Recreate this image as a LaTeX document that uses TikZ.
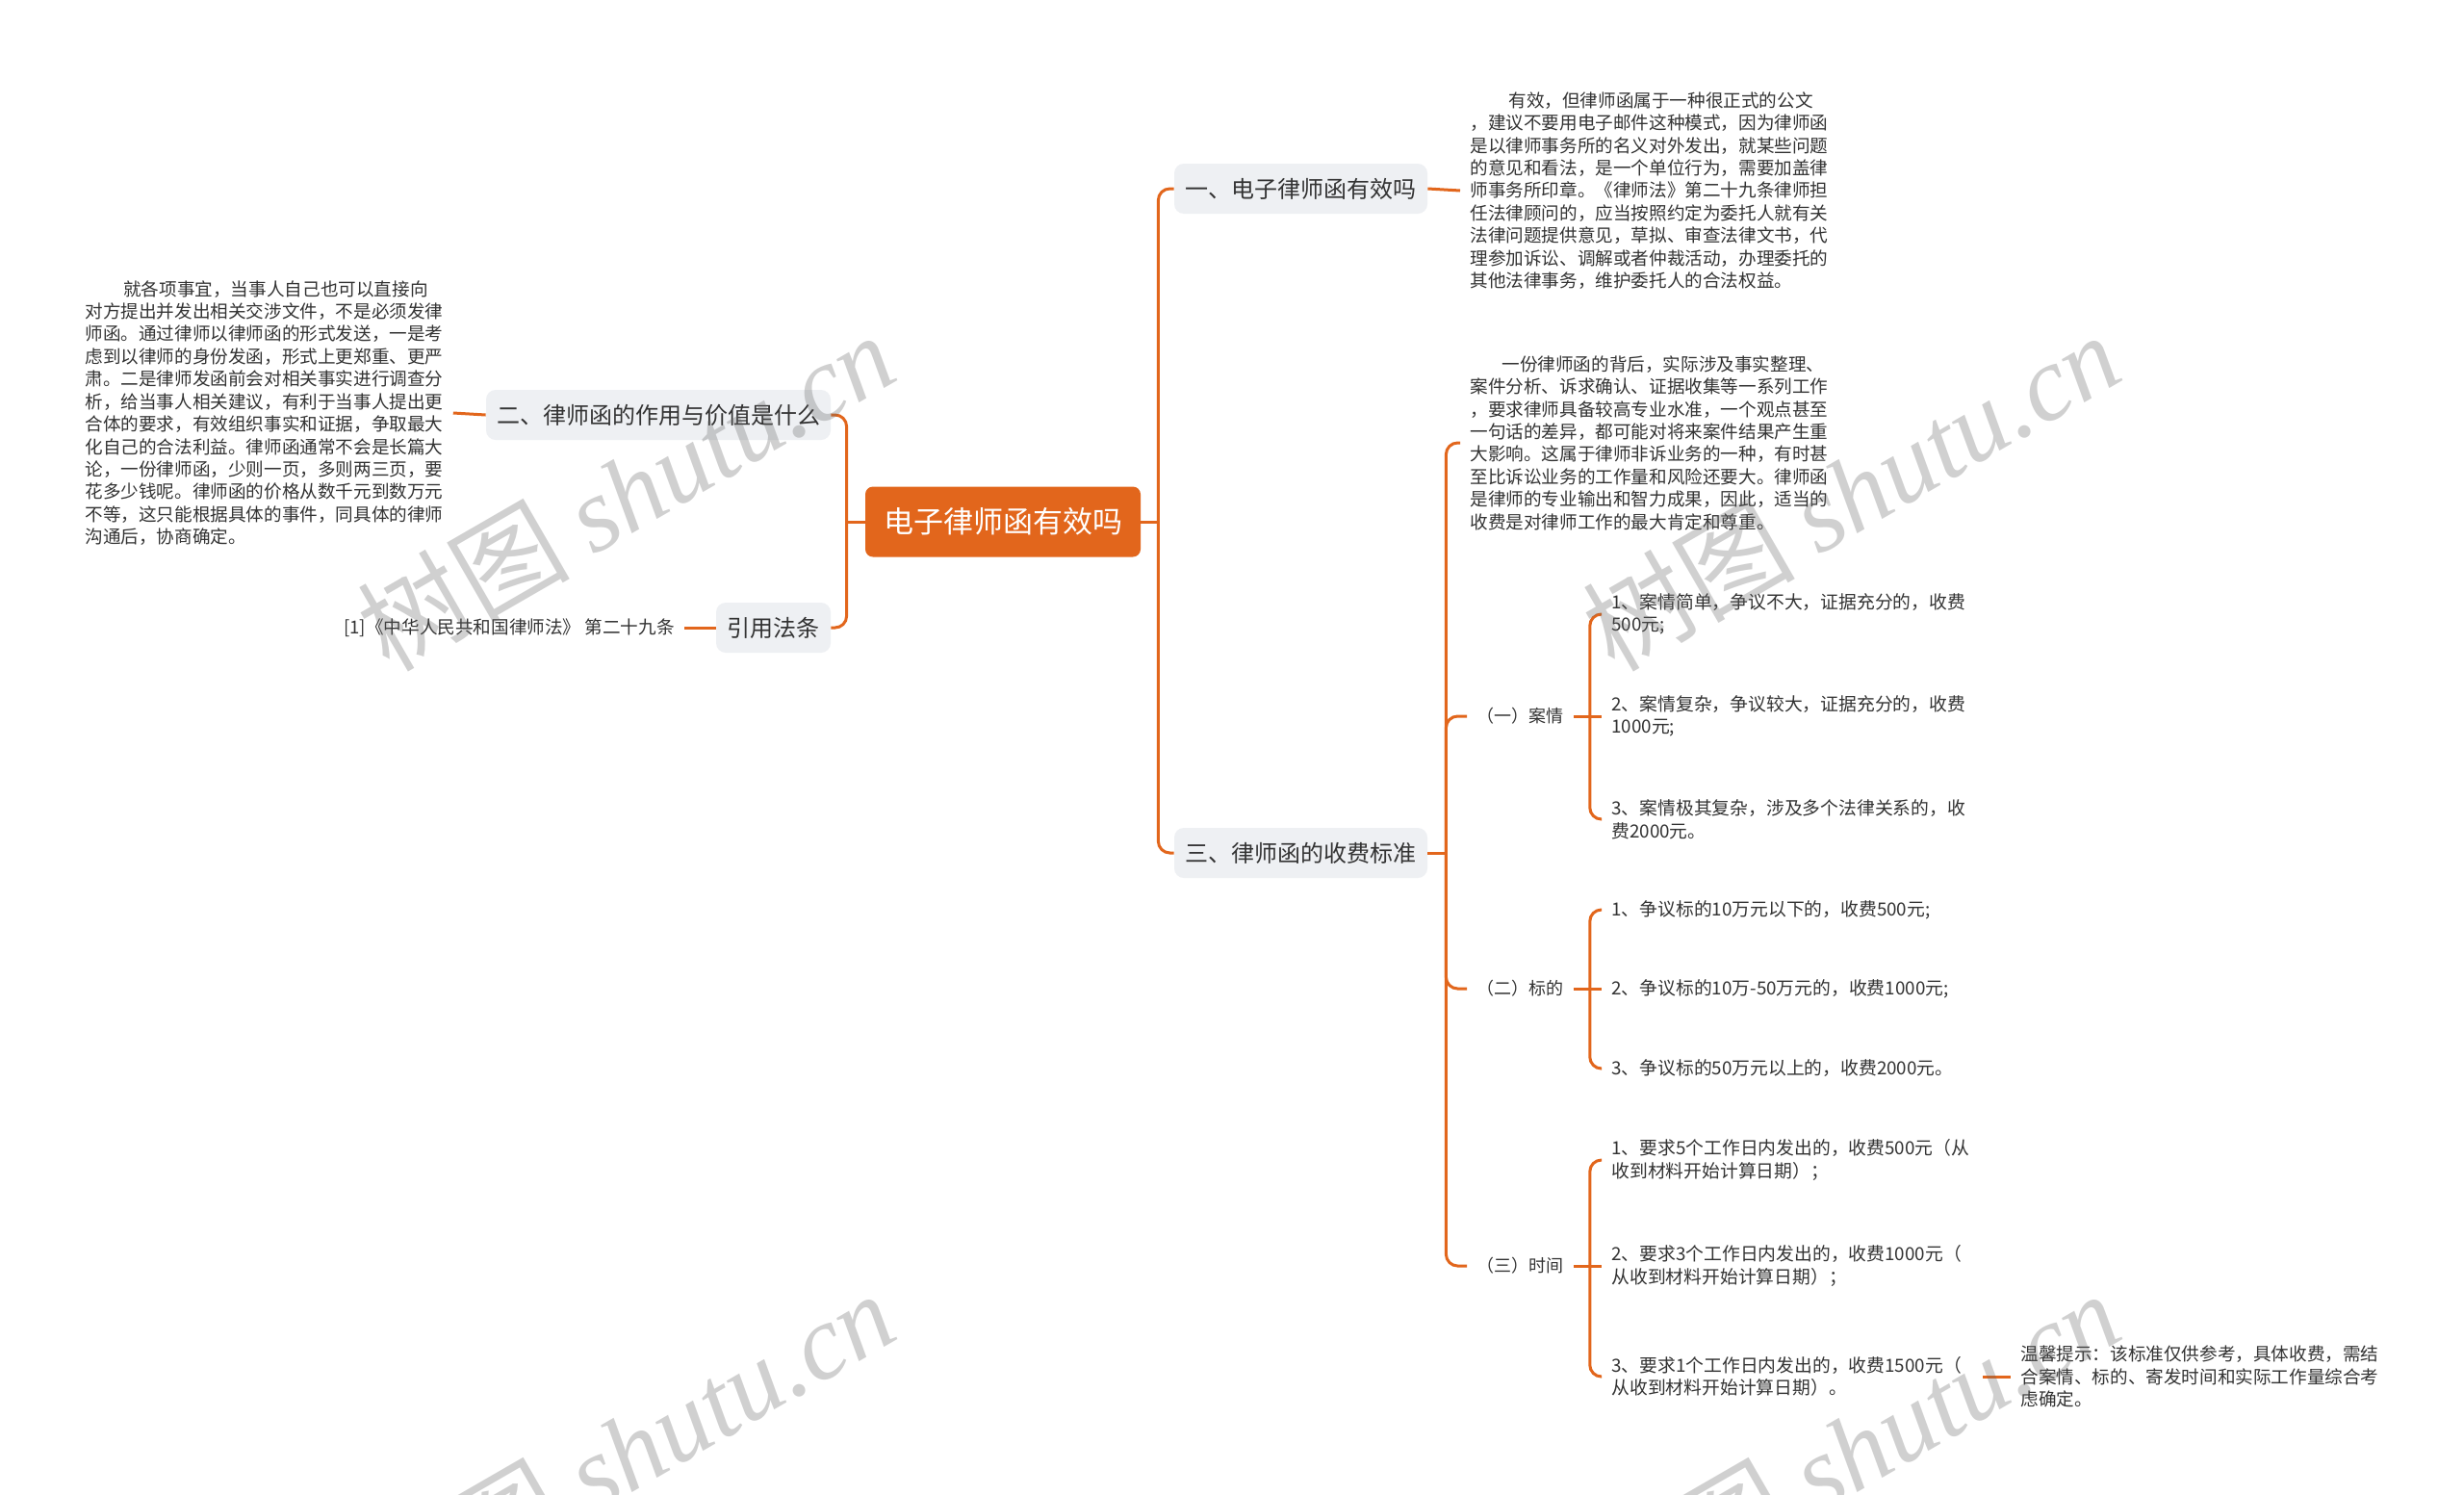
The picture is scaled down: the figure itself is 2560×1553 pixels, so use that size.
\documentclass[tikz,border=0pt]{standalone}
\usepackage{fontspec}
\setmainfont{Noto Sans CJK SC}
\newfontfamily\wmlatin{Liberation Serif}
\usetikzlibrary{calc}
\definecolor{org}{HTML}{E2661C}
\definecolor{boxg}{HTML}{EEF0F3}
\definecolor{txt}{HTML}{333333}
\begin{document}
\begin{tikzpicture}[x=0.5pt,y=-0.5pt,
 conn/.style={draw=org, line width=1.5pt},
 rconn/.style={conn, rounded corners=6pt},
 rootbox/.style={fill=org, rounded corners=4pt, text=white, font=\fontsize{15.5}{18}\selectfont, minimum width=143pt, minimum height=36.5pt, inner sep=0pt},
 mainbox/.style={fill=boxg, rounded corners=5pt, text=txt, font=\fontsize{12}{14}\selectfont, minimum height=26pt, inner sep=0pt},
 para/.style={text=txt, align=left, font=\fontsize{9.3}{11.7}\selectfont, inner xsep=5pt, inner ysep=0pt},
 leaf/.style={text=txt, align=left, font=\fontsize{9.4}{11.8}\selectfont, inner xsep=5pt, inner ysep=0pt},
 lab/.style={text=txt, font=\fontsize{9}{11}\selectfont, inner xsep=5pt, inner ysep=0pt},
 wm/.style={text=black!60, opacity=0.3, rotate=30, inner sep=0pt, font=\fontsize{55}{55}\selectfont}
]
\fill[white] (0,0) rectangle (2560,1553);
\useasboundingbox (0,0) rectangle (2560,1553);

% root and main branches
\node[rootbox] (c) at (1042,542) {电子律师函有效吗};
\node[mainbox, minimum width=131.5pt] (b1) at (1351.5,196) {一、电子律师函有效吗};
\node[mainbox, minimum width=131.5pt] (b3) at (1351.5,886) {三、律师函的收费标准};
\node[mainbox, minimum width=179pt] (b2) at (684,431) {二、律师函的作用与价值是什么};
\node[mainbox, minimum width=59.5pt] (b4) at (803.5,652) {引用法条};

% left texts
\node[para, anchor=west] (t1) at (78,429) {\hspace*{20pt}就各项事宜，当事人自己也可以直接向\\
对方提出并发出相关交涉文件，不是必须发律\\
师函。通过律师以律师函的形式发送，一是考\\
虑到以律师的身份发函，形式上更郑重、更严\\
肃。二是律师发函前会对相关事实进行调查分\\
析，给当事人相关建议，有利于当事人提出更\\
合体的要求，有效组织事实和证据，争取最大\\
化自己的合法利益。律师函通常不会是长篇大\\
论，一份律师函，少则一页，多则两三页，要\\
花多少钱呢。律师函的价格从数千元到数万元\\
不等，这只能根据具体的事件，同具体的律师\\
沟通后，协商确定。};
\node[para, anchor=east] (tr) at (711,652) {[1]《中华人民共和国律师法》 第二十九条};

% right texts
\node[para, anchor=west] (t2) at (1517,198) {\hspace*{20pt}有效，但律师函属于一种很正式的公文\\
，建议不要用电子邮件这种模式，因为律师函\\
是以律师事务所的名义对外发出，就某些问题\\
的意见和看法，是一个单位行为，需要加盖律\\
师事务所印章。《律师法》第二十九条律师担\\
任法律顾问的，应当按照约定为委托人就有关\\
法律问题提供意见，草拟、审查法律文书，代\\
理参加诉讼、调解或者仲裁活动，办理委托的\\
其他法律事务，维护委托人的合法权益。};
\node[para, anchor=west] (t3) at (1517,460) {\hspace*{16.5pt}一份律师函的背后，实际涉及事实整理、\\
案件分析、诉求确认、证据收集等一系列工作\\
，要求律师具备较高专业水准，一个观点甚至\\
一句话的差异，都可能对将来案件结果产生重\\
大影响。这属于律师非诉业务的一种，有时甚\\
至比诉讼业务的工作量和风险还要大。律师函\\
是律师的专业输出和智力成果，因此，适当的\\
收费是对律师工作的最大肯定和尊重。};

\node[lab, anchor=west] (L1) at (1524,744) {（一）案情};
\node[lab, anchor=west] (L2) at (1524,1027) {（二）标的};
\node[lab, anchor=west] (L3) at (1524,1315) {（三）时间};

\node[leaf, anchor=west] (c11) at (1664,638) {1、案情简单，争议不大，证据充分的，收费\\500元;};
\node[leaf, anchor=west] (c12) at (1664,744) {2、案情复杂，争议较大，证据充分的，收费\\1000元;};
\node[leaf, anchor=west] (c13) at (1664,851) {3、案情极其复杂，涉及多个法律关系的，收\\费2000元。};
\node[leaf, anchor=west] (c21) at (1664,945) {1、争议标的10万元以下的，收费500元;};
\node[leaf, anchor=west] (c22) at (1664,1027) {2、争议标的10万-50万元的，收费1000元;};
\node[leaf, anchor=west] (c23) at (1664,1110) {3、争议标的50万元以上的，收费2000元。};
\node[leaf, anchor=west] (c31) at (1664,1205) {1、要求5个工作日内发出的，收费500元（从\\收到材料开始计算日期）；};
\node[leaf, anchor=west] (c32) at (1664,1315) {2、要求3个工作日内发出的，收费1000元（\\从收到材料开始计算日期）；};
\node[leaf, anchor=west] (c33) at (1664,1430) {3、要求1个工作日内发出的，收费1500元（\\从收到材料开始计算日期）。};
\node[para, anchor=west] (tip) at (2089,1430) {温馨提示：该标准仅供参考，具体收费，需结\\
合案情、标的、寄发时间和实际工作量综合考\\
虑确定。};

% connectors: root
\coordinate (jR) at ($(c.east)+(18,0)$);
\coordinate (jL) at ($(c.west)+(-19,0)$);
\draw[conn] (c.east) -- (jR);
\draw[rconn] (jR) |- (b1.west);
\draw[rconn] (jR) |- (b3.west);
\draw[conn] (c.west) -- (jL);
\draw[rconn] (jL) |- (b2.east);
\draw[rconn] (jL) |- (b4.east);
\draw[conn] (b2.west) -- (t1.east);
\draw[conn] (b4.west) -- (tr.east);
\draw[conn] (b1.east) -- (t2.west);

% connectors: branch three
\coordinate (j3) at ($(b3.east)+(19,0)$);
\draw[conn] (b3.east) -- (j3);
\draw[rconn] (j3) |- (t3.west);
\draw[rconn] (j3) |- (L1.west);
\draw[rconn] (j3) |- (L2.west);
\draw[rconn] (j3) |- (L3.west);

\coordinate (k1) at ($(L1.east)+(17,0)$);
\draw[conn] (L1.east) -- (c12.west);
\draw[rconn] (k1) |- (c11.west);
\draw[rconn] (k1) |- (c13.west);
\coordinate (k2) at ($(L2.east)+(17,0)$);
\draw[conn] (L2.east) -- (c22.west);
\draw[rconn] (k2) |- (c21.west);
\draw[rconn] (k2) |- (c23.west);
\coordinate (k3) at ($(L3.east)+(17,0)$);
\draw[conn] (L3.east) -- (c32.west);
\draw[rconn] (k3) |- (c31.west);
\draw[rconn] (k3) |- (c33.west);
\draw[conn, shorten <=6pt] (c33.east) -- (tip.west);

% watermarks
\node[wm] (w1) at (650,510) {树图 {\wmlatin\itshape shutu.cn}};
\node[wm] (w2) at (1923,510) {树图 {\wmlatin\itshape shutu.cn}};
\node[wm] (w3) at (650,1506) {树图 {\wmlatin\itshape shutu.cn}};
\node[wm] (w4) at (1923,1506) {树图 {\wmlatin\itshape shutu.cn}};
\end{tikzpicture}
\end{document}
